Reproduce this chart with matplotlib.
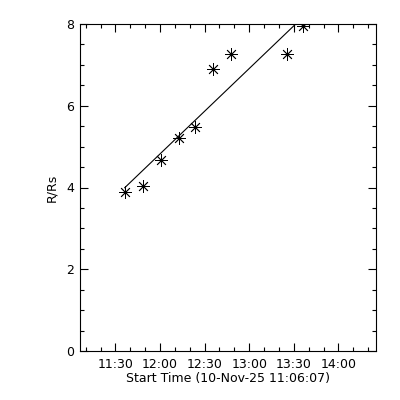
import matplotlib
matplotlib.use("Agg")
import matplotlib.pyplot as plt
import numpy as np
from matplotlib.ticker import FixedLocator, MultipleLocator

start_time = "11:06:07"
end_time = "14:25:20"
times = ["11:36:13", "11:48:19", "12:00:25", "12:12:31", "12:23:25",
         "12:35:31", "12:47:37", "13:25:31", "13:36:31"]
heights = [3.90, 4.04, 4.68, 5.20, 5.47, 6.91, 7.26, 7.26, 7.94]
major_tick_labels = ["11:30", "12:00", "12:30", "13:00", "13:30", "14:00"]
minor_tick_times = ["11:10", "11:20", "11:40", "11:50", "12:10", "12:20", "12:40",
                    "12:50", "13:10", "13:20", "13:40", "13:50", "14:10", "14:20"]
xlabel = "Start Time (10-Nov-25 11:06:07)"
ylabel = "R/Rs"


def to_min(s):
    parts = [int(p) for p in s.split(":")]
    while len(parts) < 3:
        parts.append(0)
    h, m, sec = parts
    return h * 60 + m + sec / 60.0


t0 = to_min(start_time)
x = np.array([to_min(t) - t0 for t in times])
y = np.array(heights)

fig = plt.figure(figsize=(4, 4), dpi=100)
ax = fig.add_axes([0.2, 0.1225, 0.74, 0.8175])

coef = np.polyfit(x, y, 1)
xf = np.array([x[0], x[-1]])
ax.plot(xf, np.polyval(coef, xf), color="black", lw=0.8)

ax.plot(x, y, linestyle="none", marker=(8, 2, 0), markersize=9,
        markeredgecolor="black", markeredgewidth=0.6, color="black")

ax.set_xlim(0, to_min(end_time) - t0)
ax.set_ylim(0, 8)

ax.xaxis.set_major_locator(FixedLocator([to_min(s) - t0 for s in major_tick_labels]))
ax.set_xticklabels(major_tick_labels)
ax.xaxis.set_minor_locator(FixedLocator([to_min(s) - t0 for s in minor_tick_times]))
ax.yaxis.set_major_locator(MultipleLocator(2))
ax.yaxis.set_minor_locator(MultipleLocator(0.5))

ax.tick_params(which="both", direction="in", top=True, right=True,
               labelsize=9, width=0.8, colors="black")
ax.tick_params(which="major", length=6)
ax.tick_params(axis="x", which="major", pad=5)
ax.tick_params(axis="y", which="major", pad=4)
ax.tick_params(which="minor", length=3)

for sp in ax.spines.values():
    sp.set_linewidth(0.8)

ax.set_xlabel(xlabel, fontsize=9, labelpad=1)
ax.set_ylabel(ylabel, fontsize=9, labelpad=6)

fig.savefig("out.png", dpi=100, facecolor="white")
